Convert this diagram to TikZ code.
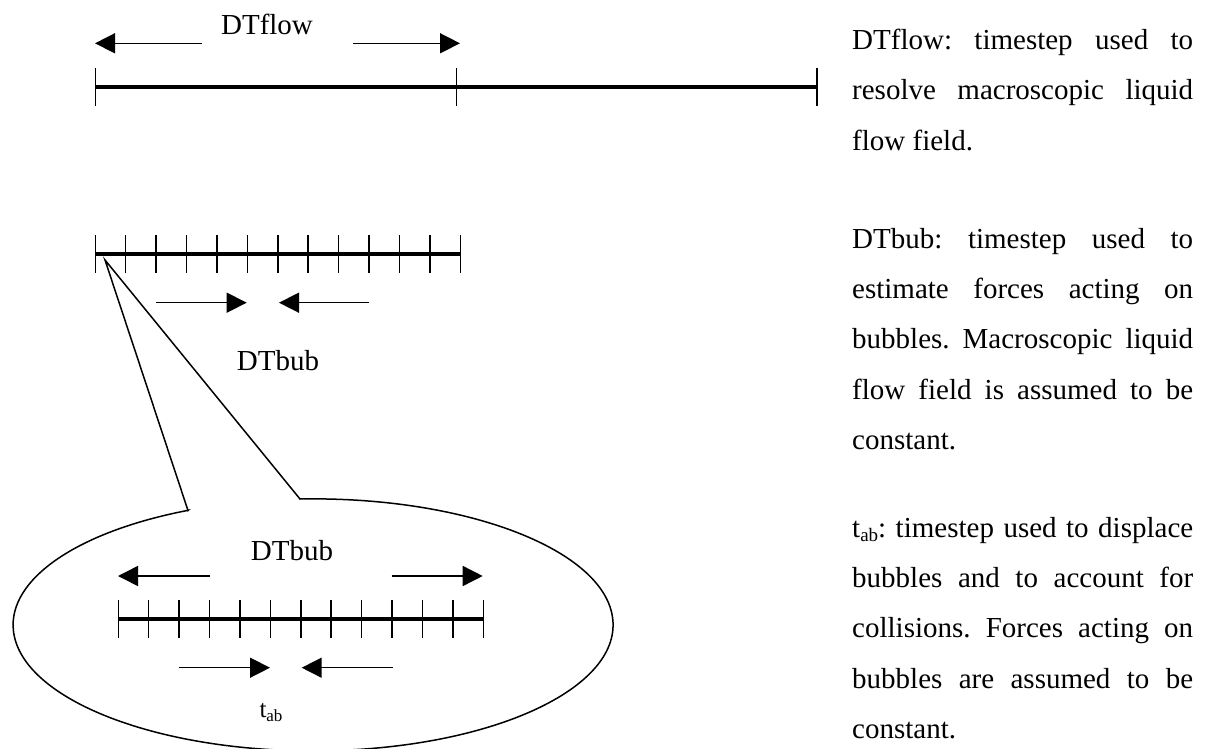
\documentclass[tikz,border=0pt]{standalone}
\usepackage{fontspec}
\setmainfont{Liberation Serif}
\usetikzlibrary{arrows.meta}
% t with subscript "ab" at a given subscript size
\newcommand\tabsub[1]{t\raisebox{-0.17em}{\fontsize{#1}{#1}\selectfont ab}}
% one fully justified line of the side notes
\newcommand\jline[1]{\makebox[341pt][s]{\spaceskip=7.25pt plus 1fil\xspaceskip=7.25pt plus 1fil #1}}
\begin{document}
\begin{tikzpicture}[x=1pt,y=-1pt,
  bar/.style={line width=4pt},
  tickmark/.style={line width=1.5pt},
  dimarrow/.style={line width=1.5pt,-{Triangle[length=20pt,width=20pt]}},
  lbl/.style={inner sep=0pt,anchor=base,font=\fontsize{29}{29}\selectfont},
  note/.style={inner sep=0pt,anchor=base west,font=\fontsize{29}{29}\selectfont},
  outline/.style={line width=1.5pt}]
\useasboundingbox (0,0) rectangle (1221,749);

% --- coarse time axis (DTflow) ---
\draw[bar] (95.5,87) -- (817,87);
\foreach \x in {95.5,456.7,817} \draw[tickmark] (\x,68) -- (\x,106);
\draw[dimarrow] (201.7,43.3) -- (95,43.3);
\draw[dimarrow] (353,43.3) -- (460,43.3);
\node[lbl] (lflow) at (267,35) {DTflow};

% --- bubble time axis (DTbub) ---
\draw[bar] (95.3,254) -- (460,254);
\foreach \i in {0,...,12} \draw[tickmark] (95.3+\i*30.42,235) -- ++(0,38);
\draw[dimarrow] (156,302.7) -- (246.7,302.7);
\draw[dimarrow] (369,302.7) -- (279,302.7);
\node[lbl] (lbub) at (278,370) {DTbub};

% --- callout with the fine axis (t_ab) ---
\draw[outline] (188,510.5) -- (105,260) -- (300,499)
  arc[start angle=267.5,end angle=605.4,x radius=300,y radius=126] -- cycle;
\node[lbl] (lbub2) at (292,560) {DTbub};
\draw[dimarrow] (210,576) -- (118,576);
\draw[dimarrow] (391.7,576) -- (482.7,576);
\draw[bar] (118.3,619) -- (483.3,619);
\foreach \i in {0,...,12} \draw[tickmark] (118.3+\i*30.42,600) -- ++(0,38);
\draw[dimarrow] (179,667.7) -- (270,667.7);
\draw[dimarrow] (392.7,667.7) -- (301.7,667.7);
\node[inner sep=0pt,anchor=base west,font=\fontsize{25}{25}\selectfont] (ltab) at (259.3,717.7) {\tabsub{17}};

% --- side notes ---
\node[note] (n1a) at (852,50)  {\jline{DTflow: timestep used to}};
\node[note] (n1b) at (852,100) {\jline{resolve macroscopic liquid}};
\node[note] (n1c) at (852,151) {flow field.};

\node[note] (n2a) at (852,248) {\jline{DTbub: timestep used to}};
\node[note] (n2b) at (852,298) {\jline{estimate forces acting on}};
\node[note] (n2c) at (852,348) {\jline{bubbles. Macroscopic liquid}};
\node[note] (n2d) at (852,399) {\jline{flow field is assumed to be}};
\node[note] (n2e) at (852,449) {constant.};

\node[note] (n3a) at (852,537) {\jline{\tabsub{19}: timestep used to displace}};
\node[note] (n3b) at (852,587) {\jline{bubbles and to account for}};
\node[note] (n3c) at (852,637) {\jline{collisions. Forces acting on}};
\node[note] (n3d) at (852,688) {\jline{bubbles are assumed to be}};
\node[note] (n3e) at (852,738) {constant.};
\end{tikzpicture}
\end{document}
